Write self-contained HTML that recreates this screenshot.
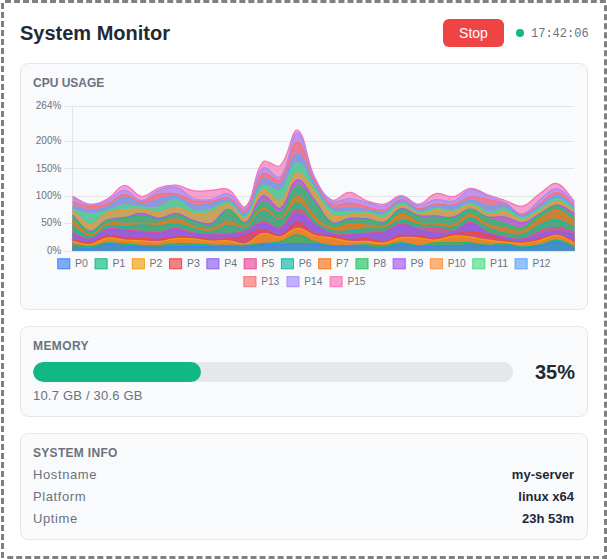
<!DOCTYPE html>
<html><head><meta charset="utf-8">
<style>
*{box-sizing:border-box;margin:0;padding:0}
html,body{width:607px;height:559px;background:#fff;overflow:hidden;font-family:"Liberation Sans",sans-serif}
.wrap{position:absolute;left:0;top:0}
.abs{position:absolute;white-space:nowrap}
.title{left:20px;top:19px;height:28px;line-height:28px;font-size:20px;font-weight:bold;color:#1f2937}
.btn{left:443px;top:19px;width:61px;height:28px;border-radius:6px;background:#ef4444;color:#fff;font-size:14px;line-height:28px;text-align:center}
.dot{left:516px;top:29px;width:8px;height:8px;border-radius:50%;background:#10b981}
.time{left:531px;top:26px;font-family:"Liberation Mono",monospace;font-size:12px;line-height:16px;color:#6b7280}
.card{position:absolute;left:20px;width:568px;background:#f9fafb;border:1px solid #e5e7eb;border-radius:8px}
.lbl{font-size:12px;font-weight:bold;color:#6b7280;line-height:14px}
.track{left:33px;top:362px;width:480px;height:20px;border-radius:10px;background:#e5e7eb;overflow:hidden}
.fill{position:absolute;left:0;top:0;width:168px;height:20px;border-radius:10px;background:#10b981}
.pct{right:32px;top:362px;width:50px;text-align:right;font-size:20px;font-weight:bold;color:#1f2937;line-height:20px}
.chart{position:absolute;left:0;top:0}
.tk{font-size:10.5px;fill:#6b7280;font-family:"Liberation Sans",sans-serif}
.lg{font-size:11px;fill:#6b7280;font-family:"Liberation Sans",sans-serif}
.sub{font-size:13px;color:#6b7280;line-height:16px}
.k{font-size:13px;color:#6b7280;line-height:16px;letter-spacing:0.6px}
.v{font-size:13px;font-weight:bold;color:#1f2937;line-height:16px;text-align:right}
</style></head><body>
<svg class="wrap" width="607" height="559"><g fill="#808080"><rect x="5.00" y="0" width="6.00" height="3"/><rect x="14.01" y="0" width="6.00" height="3"/><rect x="23.03" y="0" width="6.00" height="3"/><rect x="32.04" y="0" width="6.00" height="3"/><rect x="41.05" y="0" width="6.00" height="3"/><rect x="50.06" y="0" width="6.00" height="3"/><rect x="59.08" y="0" width="6.00" height="3"/><rect x="68.09" y="0" width="6.00" height="3"/><rect x="77.10" y="0" width="6.00" height="3"/><rect x="86.12" y="0" width="6.00" height="3"/><rect x="95.13" y="0" width="6.00" height="3"/><rect x="104.14" y="0" width="6.00" height="3"/><rect x="113.16" y="0" width="6.00" height="3"/><rect x="122.17" y="0" width="6.00" height="3"/><rect x="131.18" y="0" width="6.00" height="3"/><rect x="140.19" y="0" width="6.00" height="3"/><rect x="149.21" y="0" width="6.00" height="3"/><rect x="158.22" y="0" width="6.00" height="3"/><rect x="167.23" y="0" width="6.00" height="3"/><rect x="176.25" y="0" width="6.00" height="3"/><rect x="185.26" y="0" width="6.00" height="3"/><rect x="194.27" y="0" width="6.00" height="3"/><rect x="203.29" y="0" width="6.00" height="3"/><rect x="212.30" y="0" width="6.00" height="3"/><rect x="221.31" y="0" width="6.00" height="3"/><rect x="230.32" y="0" width="6.00" height="3"/><rect x="239.34" y="0" width="6.00" height="3"/><rect x="248.35" y="0" width="6.00" height="3"/><rect x="257.36" y="0" width="6.00" height="3"/><rect x="266.38" y="0" width="6.00" height="3"/><rect x="275.39" y="0" width="6.00" height="3"/><rect x="284.40" y="0" width="6.00" height="3"/><rect x="293.42" y="0" width="6.00" height="3"/><rect x="302.43" y="0" width="6.00" height="3"/><rect x="311.44" y="0" width="6.00" height="3"/><rect x="320.45" y="0" width="6.00" height="3"/><rect x="329.47" y="0" width="6.00" height="3"/><rect x="338.48" y="0" width="6.00" height="3"/><rect x="347.49" y="0" width="6.00" height="3"/><rect x="356.51" y="0" width="6.00" height="3"/><rect x="365.52" y="0" width="6.00" height="3"/><rect x="374.53" y="0" width="6.00" height="3"/><rect x="383.55" y="0" width="6.00" height="3"/><rect x="392.56" y="0" width="6.00" height="3"/><rect x="401.57" y="0" width="6.00" height="3"/><rect x="410.58" y="0" width="6.00" height="3"/><rect x="419.60" y="0" width="6.00" height="3"/><rect x="428.61" y="0" width="6.00" height="3"/><rect x="437.62" y="0" width="6.00" height="3"/><rect x="446.64" y="0" width="6.00" height="3"/><rect x="455.65" y="0" width="6.00" height="3"/><rect x="464.66" y="0" width="6.00" height="3"/><rect x="473.68" y="0" width="6.00" height="3"/><rect x="482.69" y="0" width="6.00" height="3"/><rect x="491.70" y="0" width="6.00" height="3"/><rect x="500.71" y="0" width="6.00" height="3"/><rect x="509.73" y="0" width="6.00" height="3"/><rect x="518.74" y="0" width="6.00" height="3"/><rect x="527.75" y="0" width="6.00" height="3"/><rect x="536.77" y="0" width="6.00" height="3"/><rect x="545.78" y="0" width="6.00" height="3"/><rect x="554.79" y="0" width="6.00" height="3"/><rect x="563.81" y="0" width="6.00" height="3"/><rect x="572.82" y="0" width="6.00" height="3"/><rect x="581.83" y="0" width="6.00" height="3"/><rect x="590.85" y="0" width="6.00" height="3"/><rect x="599.86" y="0" width="6.00" height="3"/><rect x="7.20" y="556" width="6.00" height="3"/><rect x="16.21" y="556" width="6.00" height="3"/><rect x="25.23" y="556" width="6.00" height="3"/><rect x="34.24" y="556" width="6.00" height="3"/><rect x="43.25" y="556" width="6.00" height="3"/><rect x="52.27" y="556" width="6.00" height="3"/><rect x="61.28" y="556" width="6.00" height="3"/><rect x="70.29" y="556" width="6.00" height="3"/><rect x="79.30" y="556" width="6.00" height="3"/><rect x="88.32" y="556" width="6.00" height="3"/><rect x="97.33" y="556" width="6.00" height="3"/><rect x="106.34" y="556" width="6.00" height="3"/><rect x="115.36" y="556" width="6.00" height="3"/><rect x="124.37" y="556" width="6.00" height="3"/><rect x="133.38" y="556" width="6.00" height="3"/><rect x="142.39" y="556" width="6.00" height="3"/><rect x="151.41" y="556" width="6.00" height="3"/><rect x="160.42" y="556" width="6.00" height="3"/><rect x="169.43" y="556" width="6.00" height="3"/><rect x="178.45" y="556" width="6.00" height="3"/><rect x="187.46" y="556" width="6.00" height="3"/><rect x="196.47" y="556" width="6.00" height="3"/><rect x="205.49" y="556" width="6.00" height="3"/><rect x="214.50" y="556" width="6.00" height="3"/><rect x="223.51" y="556" width="6.00" height="3"/><rect x="232.52" y="556" width="6.00" height="3"/><rect x="241.54" y="556" width="6.00" height="3"/><rect x="250.55" y="556" width="6.00" height="3"/><rect x="259.56" y="556" width="6.00" height="3"/><rect x="268.58" y="556" width="6.00" height="3"/><rect x="277.59" y="556" width="6.00" height="3"/><rect x="286.60" y="556" width="6.00" height="3"/><rect x="295.62" y="556" width="6.00" height="3"/><rect x="304.63" y="556" width="6.00" height="3"/><rect x="313.64" y="556" width="6.00" height="3"/><rect x="322.65" y="556" width="6.00" height="3"/><rect x="331.67" y="556" width="6.00" height="3"/><rect x="340.68" y="556" width="6.00" height="3"/><rect x="349.69" y="556" width="6.00" height="3"/><rect x="358.71" y="556" width="6.00" height="3"/><rect x="367.72" y="556" width="6.00" height="3"/><rect x="376.73" y="556" width="6.00" height="3"/><rect x="385.75" y="556" width="6.00" height="3"/><rect x="394.76" y="556" width="6.00" height="3"/><rect x="403.77" y="556" width="6.00" height="3"/><rect x="412.78" y="556" width="6.00" height="3"/><rect x="421.80" y="556" width="6.00" height="3"/><rect x="430.81" y="556" width="6.00" height="3"/><rect x="439.82" y="556" width="6.00" height="3"/><rect x="448.84" y="556" width="6.00" height="3"/><rect x="457.85" y="556" width="6.00" height="3"/><rect x="466.86" y="556" width="6.00" height="3"/><rect x="475.88" y="556" width="6.00" height="3"/><rect x="484.89" y="556" width="6.00" height="3"/><rect x="493.90" y="556" width="6.00" height="3"/><rect x="502.91" y="556" width="6.00" height="3"/><rect x="511.93" y="556" width="6.00" height="3"/><rect x="520.94" y="556" width="6.00" height="3"/><rect x="529.95" y="556" width="6.00" height="3"/><rect x="538.97" y="556" width="6.00" height="3"/><rect x="547.98" y="556" width="6.00" height="3"/><rect x="556.99" y="556" width="6.00" height="3"/><rect x="566.01" y="556" width="6.00" height="3"/><rect x="575.02" y="556" width="6.00" height="3"/><rect x="584.03" y="556" width="6.00" height="3"/><rect x="593.05" y="556" width="6.00" height="3"/><rect x="602.06" y="556" width="4.94" height="3"/><rect x="1" y="3.00" width="3" height="6.00"/><rect x="1" y="12.00" width="3" height="6.00"/><rect x="1" y="21.00" width="3" height="6.00"/><rect x="1" y="30.00" width="3" height="6.00"/><rect x="1" y="39.00" width="3" height="6.00"/><rect x="1" y="48.00" width="3" height="6.00"/><rect x="1" y="57.00" width="3" height="6.00"/><rect x="1" y="66.00" width="3" height="6.00"/><rect x="1" y="75.00" width="3" height="6.00"/><rect x="1" y="84.00" width="3" height="6.00"/><rect x="1" y="93.00" width="3" height="6.00"/><rect x="1" y="102.00" width="3" height="6.00"/><rect x="1" y="111.00" width="3" height="6.00"/><rect x="1" y="120.00" width="3" height="6.00"/><rect x="1" y="129.00" width="3" height="6.00"/><rect x="1" y="138.00" width="3" height="6.00"/><rect x="1" y="147.00" width="3" height="6.00"/><rect x="1" y="156.00" width="3" height="6.00"/><rect x="1" y="165.00" width="3" height="6.00"/><rect x="1" y="174.00" width="3" height="6.00"/><rect x="1" y="183.00" width="3" height="6.00"/><rect x="1" y="192.00" width="3" height="6.00"/><rect x="1" y="201.00" width="3" height="6.00"/><rect x="1" y="210.00" width="3" height="6.00"/><rect x="1" y="219.00" width="3" height="6.00"/><rect x="1" y="228.00" width="3" height="6.00"/><rect x="1" y="237.00" width="3" height="6.00"/><rect x="1" y="246.00" width="3" height="6.00"/><rect x="1" y="255.00" width="3" height="6.00"/><rect x="1" y="264.00" width="3" height="6.00"/><rect x="1" y="273.00" width="3" height="6.00"/><rect x="1" y="282.00" width="3" height="6.00"/><rect x="1" y="291.00" width="3" height="6.00"/><rect x="1" y="300.00" width="3" height="6.00"/><rect x="1" y="309.00" width="3" height="6.00"/><rect x="1" y="318.00" width="3" height="6.00"/><rect x="1" y="327.00" width="3" height="6.00"/><rect x="1" y="336.00" width="3" height="6.00"/><rect x="1" y="345.00" width="3" height="6.00"/><rect x="1" y="354.00" width="3" height="6.00"/><rect x="1" y="363.00" width="3" height="6.00"/><rect x="1" y="372.00" width="3" height="6.00"/><rect x="1" y="381.00" width="3" height="6.00"/><rect x="1" y="390.00" width="3" height="6.00"/><rect x="1" y="399.00" width="3" height="6.00"/><rect x="1" y="408.00" width="3" height="6.00"/><rect x="1" y="417.00" width="3" height="6.00"/><rect x="1" y="426.00" width="3" height="6.00"/><rect x="1" y="435.00" width="3" height="6.00"/><rect x="1" y="444.00" width="3" height="6.00"/><rect x="1" y="453.00" width="3" height="6.00"/><rect x="1" y="462.00" width="3" height="6.00"/><rect x="1" y="471.00" width="3" height="6.00"/><rect x="1" y="480.00" width="3" height="6.00"/><rect x="1" y="489.00" width="3" height="6.00"/><rect x="1" y="498.00" width="3" height="6.00"/><rect x="1" y="507.00" width="3" height="6.00"/><rect x="1" y="516.00" width="3" height="6.00"/><rect x="1" y="525.00" width="3" height="6.00"/><rect x="1" y="534.00" width="3" height="6.00"/><rect x="1" y="543.00" width="3" height="6.00"/><rect x="1" y="552.00" width="3" height="6.00"/><rect x="604" y="5.20" width="3" height="6.00"/><rect x="604" y="14.21" width="3" height="6.00"/><rect x="604" y="23.23" width="3" height="6.00"/><rect x="604" y="32.24" width="3" height="6.00"/><rect x="604" y="41.25" width="3" height="6.00"/><rect x="604" y="50.27" width="3" height="6.00"/><rect x="604" y="59.28" width="3" height="6.00"/><rect x="604" y="68.29" width="3" height="6.00"/><rect x="604" y="77.30" width="3" height="6.00"/><rect x="604" y="86.32" width="3" height="6.00"/><rect x="604" y="95.33" width="3" height="6.00"/><rect x="604" y="104.34" width="3" height="6.00"/><rect x="604" y="113.36" width="3" height="6.00"/><rect x="604" y="122.37" width="3" height="6.00"/><rect x="604" y="131.38" width="3" height="6.00"/><rect x="604" y="140.39" width="3" height="6.00"/><rect x="604" y="149.41" width="3" height="6.00"/><rect x="604" y="158.42" width="3" height="6.00"/><rect x="604" y="167.43" width="3" height="6.00"/><rect x="604" y="176.45" width="3" height="6.00"/><rect x="604" y="185.46" width="3" height="6.00"/><rect x="604" y="194.47" width="3" height="6.00"/><rect x="604" y="203.49" width="3" height="6.00"/><rect x="604" y="212.50" width="3" height="6.00"/><rect x="604" y="221.51" width="3" height="6.00"/><rect x="604" y="230.52" width="3" height="6.00"/><rect x="604" y="239.54" width="3" height="6.00"/><rect x="604" y="248.55" width="3" height="6.00"/><rect x="604" y="257.56" width="3" height="6.00"/><rect x="604" y="266.58" width="3" height="6.00"/><rect x="604" y="275.59" width="3" height="6.00"/><rect x="604" y="284.60" width="3" height="6.00"/><rect x="604" y="293.62" width="3" height="6.00"/><rect x="604" y="302.63" width="3" height="6.00"/><rect x="604" y="311.64" width="3" height="6.00"/><rect x="604" y="320.65" width="3" height="6.00"/><rect x="604" y="329.67" width="3" height="6.00"/><rect x="604" y="338.68" width="3" height="6.00"/><rect x="604" y="347.69" width="3" height="6.00"/><rect x="604" y="356.71" width="3" height="6.00"/><rect x="604" y="365.72" width="3" height="6.00"/><rect x="604" y="374.73" width="3" height="6.00"/><rect x="604" y="383.75" width="3" height="6.00"/><rect x="604" y="392.76" width="3" height="6.00"/><rect x="604" y="401.77" width="3" height="6.00"/><rect x="604" y="410.78" width="3" height="6.00"/><rect x="604" y="419.80" width="3" height="6.00"/><rect x="604" y="428.81" width="3" height="6.00"/><rect x="604" y="437.82" width="3" height="6.00"/><rect x="604" y="446.84" width="3" height="6.00"/><rect x="604" y="455.85" width="3" height="6.00"/><rect x="604" y="464.86" width="3" height="6.00"/><rect x="604" y="473.88" width="3" height="6.00"/><rect x="604" y="482.89" width="3" height="6.00"/><rect x="604" y="491.90" width="3" height="6.00"/><rect x="604" y="500.91" width="3" height="6.00"/><rect x="604" y="509.93" width="3" height="6.00"/><rect x="604" y="518.94" width="3" height="6.00"/><rect x="604" y="527.95" width="3" height="6.00"/><rect x="604" y="536.97" width="3" height="6.00"/><rect x="604" y="545.98" width="3" height="6.00"/><rect x="604" y="554.99" width="3" height="4.01"/></g></svg>
<div class="abs title">System Monitor</div>
<div class="abs btn">Stop</div>
<div class="abs dot"></div>
<div class="abs time">17:42:06</div>

<div class="card" style="top:63px;height:247px"></div>
<div class="abs lbl" style="left:33px;top:76px">CPU USAGE</div>
<svg class="chart" width="607" height="559" viewBox="0 0 607 559">
<line x1="64.5" x2="574.5" y1="251.5" y2="251.5" stroke="#e3e4e6" stroke-width="1"/>
<text x="47.1" y="253.6" textLength="14.2" lengthAdjust="spacingAndGlyphs" class="tk">0%</text>
<line x1="64.5" x2="574.5" y1="223.5" y2="223.5" stroke="#e3e4e6" stroke-width="1"/>
<text x="41.3" y="226.2" textLength="20.0" lengthAdjust="spacingAndGlyphs" class="tk">50%</text>
<line x1="64.5" x2="574.5" y1="196.5" y2="196.5" stroke="#e3e4e6" stroke-width="1"/>
<text x="35.8" y="198.9" textLength="25.5" lengthAdjust="spacingAndGlyphs" class="tk">100%</text>
<line x1="64.5" x2="574.5" y1="168.5" y2="168.5" stroke="#e3e4e6" stroke-width="1"/>
<text x="35.8" y="171.5" textLength="25.5" lengthAdjust="spacingAndGlyphs" class="tk">150%</text>
<line x1="64.5" x2="574.5" y1="141.5" y2="141.5" stroke="#e3e4e6" stroke-width="1"/>
<text x="35.8" y="144.1" textLength="25.5" lengthAdjust="spacingAndGlyphs" class="tk">200%</text>
<line x1="64.5" x2="574.5" y1="106.5" y2="106.5" stroke="#e3e4e6" stroke-width="1"/>
<text x="35.8" y="109.1" textLength="25.5" lengthAdjust="spacingAndGlyphs" class="tk">264%</text>
<line x1="72.5" x2="72.5" y1="106" y2="252" stroke="#e3e4e6" stroke-width="1"/>
<path d="M72.60,196.30C79.52,199.46 82.80,203.63 89.90,204.20C96.64,204.75 100.97,202.47 107.20,199.10C114.81,194.99 117.34,186.04 124.50,185.50C131.18,185.00 134.69,196.05 141.80,196.50C148.53,196.93 151.82,190.10 159.10,187.70C165.66,185.54 169.62,184.49 176.40,185.10C183.46,185.73 186.60,189.71 193.70,190.80C200.44,191.83 204.08,190.64 211.00,190.40C217.92,190.16 222.52,186.91 228.30,189.60C236.36,193.35 240.96,210.23 245.60,206.50C254.80,199.11 252.79,173.75 262.90,161.80C266.63,157.39 275.91,169.52 280.20,165.60C289.75,156.88 291.43,128.11 297.50,130.20C305.27,132.87 305.95,159.64 314.80,177.50C319.79,187.56 323.79,196.42 332.10,200.00C337.63,202.38 342.54,192.24 349.40,192.40C356.38,192.56 359.48,198.34 366.70,200.80C373.32,203.06 377.40,205.21 384.00,204.20C391.24,203.09 394.38,195.50 401.30,195.50C408.22,195.50 411.84,204.57 418.60,204.20C425.68,203.81 428.48,195.23 435.90,193.60C442.32,192.19 446.59,197.61 453.20,196.60C460.43,195.49 463.45,188.67 470.50,188.30C477.29,187.95 480.83,192.34 487.80,194.80C494.67,197.22 498.17,198.24 505.10,200.50C512.01,202.76 516.02,207.35 522.40,206.10C529.86,204.63 532.57,198.34 539.70,193.70C546.41,189.34 550.80,182.26 557.00,183.60C564.64,185.26 567.38,194.16 574.30,201.20L574.30,251.1L72.60,251.1Z" fill="#f472b6" fill-opacity="0.66"/>
<path d="M72.60,196.30C79.52,199.46 82.80,203.63 89.90,204.20C96.64,204.75 100.97,202.47 107.20,199.10C114.81,194.99 117.34,186.04 124.50,185.50C131.18,185.00 134.69,196.05 141.80,196.50C148.53,196.93 151.82,190.10 159.10,187.70C165.66,185.54 169.62,184.49 176.40,185.10C183.46,185.73 186.60,189.71 193.70,190.80C200.44,191.83 204.08,190.64 211.00,190.40C217.92,190.16 222.52,186.91 228.30,189.60C236.36,193.35 240.96,210.23 245.60,206.50C254.80,199.11 252.79,173.75 262.90,161.80C266.63,157.39 275.91,169.52 280.20,165.60C289.75,156.88 291.43,128.11 297.50,130.20C305.27,132.87 305.95,159.64 314.80,177.50C319.79,187.56 323.79,196.42 332.10,200.00C337.63,202.38 342.54,192.24 349.40,192.40C356.38,192.56 359.48,198.34 366.70,200.80C373.32,203.06 377.40,205.21 384.00,204.20C391.24,203.09 394.38,195.50 401.30,195.50C408.22,195.50 411.84,204.57 418.60,204.20C425.68,203.81 428.48,195.23 435.90,193.60C442.32,192.19 446.59,197.61 453.20,196.60C460.43,195.49 463.45,188.67 470.50,188.30C477.29,187.95 480.83,192.34 487.80,194.80C494.67,197.22 498.17,198.24 505.10,200.50C512.01,202.76 516.02,207.35 522.40,206.10C529.86,204.63 532.57,198.34 539.70,193.70C546.41,189.34 550.80,182.26 557.00,183.60C564.64,185.26 567.38,194.16 574.30,201.20" fill="none" stroke="#f472b6" stroke-width="1.2"/>
<path d="M72.60,197.30C79.52,200.46 82.75,204.44 89.90,205.20C96.59,205.92 100.73,203.77 107.20,201.00C114.57,197.85 117.54,190.48 124.50,190.40C131.38,190.32 134.92,200.68 141.80,200.60C148.76,200.52 151.67,192.84 159.10,190.00C165.51,187.56 170.05,185.80 176.40,187.40C183.89,189.28 186.17,196.07 193.70,198.70C200.01,200.91 204.25,200.46 211.00,199.50C218.09,198.50 222.14,192.20 228.30,193.80C235.98,195.80 240.88,211.99 245.60,208.50C254.72,201.75 253.31,176.93 262.90,168.20C267.15,164.33 276.16,181.09 280.20,177.00C290.00,167.09 290.75,132.71 297.50,133.20C304.59,133.71 305.94,162.08 314.80,179.50C319.78,189.28 323.61,196.54 332.10,201.20C337.45,204.14 342.52,198.28 349.40,198.50C356.36,198.72 359.78,200.78 366.70,202.30C373.62,203.82 377.45,207.18 384.00,206.10C391.29,204.90 394.35,196.68 401.30,196.60C408.19,196.52 411.46,205.08 418.60,205.70C425.30,206.28 428.79,200.52 435.90,199.60C442.63,198.72 446.89,202.99 453.20,201.20C460.73,199.07 463.18,190.84 470.50,189.80C477.02,188.88 480.87,193.72 487.80,196.30C494.71,198.88 498.57,199.36 505.10,202.70C512.41,206.44 515.75,214.54 522.40,214.00C529.59,213.42 532.49,205.13 539.70,199.90C546.33,195.09 550.32,188.40 557.00,188.90C564.16,189.44 567.38,197.06 574.30,202.50L574.30,251.1L72.60,251.1Z" fill="#a78bfa" fill-opacity="0.66"/>
<path d="M72.60,197.30C79.52,200.46 82.75,204.44 89.90,205.20C96.59,205.92 100.73,203.77 107.20,201.00C114.57,197.85 117.54,190.48 124.50,190.40C131.38,190.32 134.92,200.68 141.80,200.60C148.76,200.52 151.67,192.84 159.10,190.00C165.51,187.56 170.05,185.80 176.40,187.40C183.89,189.28 186.17,196.07 193.70,198.70C200.01,200.91 204.25,200.46 211.00,199.50C218.09,198.50 222.14,192.20 228.30,193.80C235.98,195.80 240.88,211.99 245.60,208.50C254.72,201.75 253.31,176.93 262.90,168.20C267.15,164.33 276.16,181.09 280.20,177.00C290.00,167.09 290.75,132.71 297.50,133.20C304.59,133.71 305.94,162.08 314.80,179.50C319.78,189.28 323.61,196.54 332.10,201.20C337.45,204.14 342.52,198.28 349.40,198.50C356.36,198.72 359.78,200.78 366.70,202.30C373.62,203.82 377.45,207.18 384.00,206.10C391.29,204.90 394.35,196.68 401.30,196.60C408.19,196.52 411.46,205.08 418.60,205.70C425.30,206.28 428.79,200.52 435.90,199.60C442.63,198.72 446.89,202.99 453.20,201.20C460.73,199.07 463.18,190.84 470.50,189.80C477.02,188.88 480.87,193.72 487.80,196.30C494.71,198.88 498.57,199.36 505.10,202.70C512.41,206.44 515.75,214.54 522.40,214.00C529.59,213.42 532.49,205.13 539.70,199.90C546.33,195.09 550.32,188.40 557.00,188.90C564.16,189.44 567.38,197.06 574.30,202.50" fill="none" stroke="#a78bfa" stroke-width="1.2"/>
<path d="M72.60,201.90C79.52,203.78 82.90,206.17 89.90,206.60C96.74,207.01 100.69,206.26 107.20,204.00C114.53,201.46 117.43,194.99 124.50,194.60C131.27,194.23 134.91,202.18 141.80,202.10C148.75,202.02 151.85,195.85 159.10,194.20C165.69,192.69 169.73,192.89 176.40,194.20C183.57,195.61 186.53,199.51 193.70,201.00C200.37,202.39 204.14,201.99 211.00,201.40C217.98,200.79 222.09,196.28 228.30,198.00C235.93,200.12 240.82,214.34 245.60,211.00C254.66,204.66 253.34,182.36 262.90,173.80C267.18,169.96 275.95,183.87 280.20,180.00C289.79,171.27 290.69,142.00 297.50,142.30C304.53,142.60 306.53,166.61 314.80,181.50C320.37,191.53 323.46,199.23 332.10,204.60C337.30,207.83 342.55,202.56 349.40,203.00C356.39,203.44 359.76,205.36 366.70,206.80C373.60,208.24 377.57,211.54 384.00,210.20C391.41,208.66 394.25,199.91 401.30,199.60C408.09,199.31 411.37,207.74 418.60,208.70C425.21,209.58 428.87,204.97 435.90,204.20C442.71,203.45 446.60,206.27 453.20,204.90C460.44,203.39 463.29,198.08 470.50,197.00C477.13,196.00 480.95,198.27 487.80,199.70C494.79,201.15 498.64,201.34 505.10,204.20C512.48,207.46 515.53,215.10 522.40,215.00C529.37,214.90 532.75,208.18 539.70,203.70C546.59,199.26 550.20,192.44 557.00,192.70C564.04,192.96 567.38,200.08 574.30,205.00L574.30,251.1L72.60,251.1Z" fill="#f87171" fill-opacity="0.66"/>
<path d="M72.60,201.90C79.52,203.78 82.90,206.17 89.90,206.60C96.74,207.01 100.69,206.26 107.20,204.00C114.53,201.46 117.43,194.99 124.50,194.60C131.27,194.23 134.91,202.18 141.80,202.10C148.75,202.02 151.85,195.85 159.10,194.20C165.69,192.69 169.73,192.89 176.40,194.20C183.57,195.61 186.53,199.51 193.70,201.00C200.37,202.39 204.14,201.99 211.00,201.40C217.98,200.79 222.09,196.28 228.30,198.00C235.93,200.12 240.82,214.34 245.60,211.00C254.66,204.66 253.34,182.36 262.90,173.80C267.18,169.96 275.95,183.87 280.20,180.00C289.79,171.27 290.69,142.00 297.50,142.30C304.53,142.60 306.53,166.61 314.80,181.50C320.37,191.53 323.46,199.23 332.10,204.60C337.30,207.83 342.55,202.56 349.40,203.00C356.39,203.44 359.76,205.36 366.70,206.80C373.60,208.24 377.57,211.54 384.00,210.20C391.41,208.66 394.25,199.91 401.30,199.60C408.09,199.31 411.37,207.74 418.60,208.70C425.21,209.58 428.87,204.97 435.90,204.20C442.71,203.45 446.60,206.27 453.20,204.90C460.44,203.39 463.29,198.08 470.50,197.00C477.13,196.00 480.95,198.27 487.80,199.70C494.79,201.15 498.64,201.34 505.10,204.20C512.48,207.46 515.53,215.10 522.40,215.00C529.37,214.90 532.75,208.18 539.70,203.70C546.59,199.26 550.20,192.44 557.00,192.70C564.04,192.96 567.38,200.08 574.30,205.00" fill="none" stroke="#f87171" stroke-width="1.2"/>
<path d="M72.60,205.80C79.52,207.52 82.92,209.78 89.90,210.10C96.76,210.42 100.75,209.80 107.20,207.40C114.59,204.64 117.31,197.91 124.50,197.20C131.15,196.55 134.74,203.53 141.80,204.00C148.58,204.45 152.12,201.01 159.10,199.50C165.96,198.01 169.82,195.42 176.40,196.50C183.66,197.70 186.40,203.68 193.70,205.20C200.24,206.56 204.15,204.75 211.00,203.70C217.99,202.63 222.18,198.08 228.30,199.90C236.02,202.20 240.53,216.99 245.60,214.00C254.37,208.83 253.46,187.55 262.90,179.50C267.30,175.75 275.50,187.96 280.20,184.50C289.34,177.76 290.58,154.00 297.50,154.00C304.42,154.00 307.25,172.71 314.80,184.50C321.09,194.31 323.41,202.10 332.10,208.00C337.25,211.50 342.49,207.70 349.40,208.00C356.33,208.30 359.82,208.60 366.70,209.50C373.66,210.40 377.68,214.09 384.00,212.50C391.52,210.61 394.18,201.27 401.30,200.80C408.02,200.35 411.37,209.26 418.60,210.20C425.21,211.06 428.86,205.99 435.90,205.30C442.70,204.63 446.51,207.81 453.20,206.80C460.35,205.73 463.52,200.30 470.50,200.10C477.36,199.90 480.70,204.71 487.80,205.80C494.54,206.83 498.73,203.52 505.10,205.40C512.57,207.60 515.42,215.86 522.40,216.00C529.26,216.14 532.79,210.08 539.70,206.10C546.63,202.12 550.16,195.92 557.00,196.10C564.00,196.28 567.38,202.64 574.30,207.00L574.30,251.1L72.60,251.1Z" fill="#60a5fa" fill-opacity="0.66"/>
<path d="M72.60,205.80C79.52,207.52 82.92,209.78 89.90,210.10C96.76,210.42 100.75,209.80 107.20,207.40C114.59,204.64 117.31,197.91 124.50,197.20C131.15,196.55 134.74,203.53 141.80,204.00C148.58,204.45 152.12,201.01 159.10,199.50C165.96,198.01 169.82,195.42 176.40,196.50C183.66,197.70 186.40,203.68 193.70,205.20C200.24,206.56 204.15,204.75 211.00,203.70C217.99,202.63 222.18,198.08 228.30,199.90C236.02,202.20 240.53,216.99 245.60,214.00C254.37,208.83 253.46,187.55 262.90,179.50C267.30,175.75 275.50,187.96 280.20,184.50C289.34,177.76 290.58,154.00 297.50,154.00C304.42,154.00 307.25,172.71 314.80,184.50C321.09,194.31 323.41,202.10 332.10,208.00C337.25,211.50 342.49,207.70 349.40,208.00C356.33,208.30 359.82,208.60 366.70,209.50C373.66,210.40 377.68,214.09 384.00,212.50C391.52,210.61 394.18,201.27 401.30,200.80C408.02,200.35 411.37,209.26 418.60,210.20C425.21,211.06 428.86,205.99 435.90,205.30C442.70,204.63 446.51,207.81 453.20,206.80C460.35,205.73 463.52,200.30 470.50,200.10C477.36,199.90 480.70,204.71 487.80,205.80C494.54,206.83 498.73,203.52 505.10,205.40C512.57,207.60 515.42,215.86 522.40,216.00C529.26,216.14 532.79,210.08 539.70,206.10C546.63,202.12 550.16,195.92 557.00,196.10C564.00,196.28 567.38,202.64 574.30,207.00" fill="none" stroke="#60a5fa" stroke-width="1.2"/>
<path d="M72.60,209.00C79.52,211.04 82.91,213.80 89.90,214.10C96.75,214.40 100.36,212.26 107.20,210.50C114.20,208.70 117.45,205.89 124.50,205.20C131.29,204.53 134.86,206.72 141.80,207.10C148.70,207.48 152.49,208.55 159.10,207.10C166.33,205.51 169.79,198.79 176.40,199.50C183.63,200.27 186.18,208.67 193.70,210.80C200.02,212.59 204.32,210.90 211.00,209.30C218.16,207.58 222.05,201.11 228.30,202.50C235.89,204.19 240.22,219.57 245.60,217.00C254.06,212.97 253.70,193.05 262.90,186.00C267.54,182.45 275.28,193.76 280.20,190.50C289.12,184.60 290.44,163.41 297.50,163.10C304.28,162.81 307.51,178.91 314.80,189.00C321.35,198.07 323.55,205.37 332.10,211.00C337.39,214.49 342.48,211.58 349.40,211.80C356.32,212.02 359.82,211.50 366.70,212.10C373.66,212.70 377.62,216.33 384.00,214.80C391.46,213.01 394.18,204.27 401.30,203.80C408.02,203.35 411.37,211.48 418.60,212.50C425.21,213.44 428.93,209.00 435.90,208.70C442.77,208.40 446.55,212.00 453.20,211.00C460.39,209.92 463.64,203.34 470.50,203.50C477.48,203.66 480.56,210.61 487.80,211.80C494.40,212.89 498.52,208.06 505.10,209.20C512.36,210.46 515.50,217.84 522.40,217.80C529.34,217.76 532.89,212.72 539.70,209.00C546.73,205.16 550.11,198.84 557.00,198.90C563.95,198.96 567.38,205.14 574.30,209.30L574.30,251.1L72.60,251.1Z" fill="#4ade80" fill-opacity="0.66"/>
<path d="M72.60,209.00C79.52,211.04 82.91,213.80 89.90,214.10C96.75,214.40 100.36,212.26 107.20,210.50C114.20,208.70 117.45,205.89 124.50,205.20C131.29,204.53 134.86,206.72 141.80,207.10C148.70,207.48 152.49,208.55 159.10,207.10C166.33,205.51 169.79,198.79 176.40,199.50C183.63,200.27 186.18,208.67 193.70,210.80C200.02,212.59 204.32,210.90 211.00,209.30C218.16,207.58 222.05,201.11 228.30,202.50C235.89,204.19 240.22,219.57 245.60,217.00C254.06,212.97 253.70,193.05 262.90,186.00C267.54,182.45 275.28,193.76 280.20,190.50C289.12,184.60 290.44,163.41 297.50,163.10C304.28,162.81 307.51,178.91 314.80,189.00C321.35,198.07 323.55,205.37 332.10,211.00C337.39,214.49 342.48,211.58 349.40,211.80C356.32,212.02 359.82,211.50 366.70,212.10C373.66,212.70 377.62,216.33 384.00,214.80C391.46,213.01 394.18,204.27 401.30,203.80C408.02,203.35 411.37,211.48 418.60,212.50C425.21,213.44 428.93,209.00 435.90,208.70C442.77,208.40 446.55,212.00 453.20,211.00C460.39,209.92 463.64,203.34 470.50,203.50C477.48,203.66 480.56,210.61 487.80,211.80C494.40,212.89 498.52,208.06 505.10,209.20C512.36,210.46 515.50,217.84 522.40,217.80C529.34,217.76 532.89,212.72 539.70,209.00C546.73,205.16 550.11,198.84 557.00,198.90C563.95,198.96 567.38,205.14 574.30,209.30" fill="none" stroke="#4ade80" stroke-width="1.2"/>
<path d="M72.60,211.10C79.52,216.38 82.79,223.89 89.90,224.30C96.63,224.69 99.74,216.25 107.20,213.10C113.58,210.41 117.52,210.47 124.50,209.70C131.36,208.95 134.93,208.76 141.80,209.30C148.77,209.84 152.26,212.78 159.10,212.40C166.10,212.02 169.58,207.08 176.40,207.40C183.42,207.72 186.56,212.97 193.70,214.00C200.40,214.97 204.37,214.16 211.00,212.40C218.21,210.48 221.96,203.59 228.30,204.80C235.80,206.23 240.08,221.36 245.60,219.00C253.92,215.44 254.34,194.30 262.90,190.00C268.18,187.34 274.87,204.19 280.20,201.60C288.71,197.47 289.72,175.25 297.50,173.20C303.56,171.61 308.21,184.50 314.80,192.50C322.05,201.30 323.48,209.55 332.10,215.20C337.32,218.63 342.50,215.58 349.40,215.20C356.34,214.82 359.87,212.79 366.70,213.30C373.71,213.83 377.65,219.19 384.00,217.80C391.49,216.15 394.05,206.50 401.30,205.70C407.89,204.98 411.39,212.98 418.60,214.00C425.23,214.94 428.94,210.90 435.90,210.60C442.78,210.30 446.56,213.58 453.20,212.50C460.40,211.34 463.74,204.61 470.50,205.00C477.58,205.41 480.45,212.88 487.80,214.50C494.29,215.92 498.45,211.54 505.10,212.60C512.29,213.74 515.57,220.24 522.40,220.00C529.41,219.76 532.86,215.00 539.70,211.40C546.70,207.72 550.10,201.76 557.00,201.80C563.94,201.84 567.38,207.68 574.30,211.60L574.30,251.1L72.60,251.1Z" fill="#fb923c" fill-opacity="0.66"/>
<path d="M72.60,211.10C79.52,216.38 82.79,223.89 89.90,224.30C96.63,224.69 99.74,216.25 107.20,213.10C113.58,210.41 117.52,210.47 124.50,209.70C131.36,208.95 134.93,208.76 141.80,209.30C148.77,209.84 152.26,212.78 159.10,212.40C166.10,212.02 169.58,207.08 176.40,207.40C183.42,207.72 186.56,212.97 193.70,214.00C200.40,214.97 204.37,214.16 211.00,212.40C218.21,210.48 221.96,203.59 228.30,204.80C235.80,206.23 240.08,221.36 245.60,219.00C253.92,215.44 254.34,194.30 262.90,190.00C268.18,187.34 274.87,204.19 280.20,201.60C288.71,197.47 289.72,175.25 297.50,173.20C303.56,171.61 308.21,184.50 314.80,192.50C322.05,201.30 323.48,209.55 332.10,215.20C337.32,218.63 342.50,215.58 349.40,215.20C356.34,214.82 359.87,212.79 366.70,213.30C373.71,213.83 377.65,219.19 384.00,217.80C391.49,216.15 394.05,206.50 401.30,205.70C407.89,204.98 411.39,212.98 418.60,214.00C425.23,214.94 428.94,210.90 435.90,210.60C442.78,210.30 446.56,213.58 453.20,212.50C460.40,211.34 463.74,204.61 470.50,205.00C477.58,205.41 480.45,212.88 487.80,214.50C494.29,215.92 498.45,211.54 505.10,212.60C512.29,213.74 515.57,220.24 522.40,220.00C529.41,219.76 532.86,215.00 539.70,211.40C546.70,207.72 550.10,201.76 557.00,201.80C563.94,201.84 567.38,207.68 574.30,211.60" fill="none" stroke="#fb923c" stroke-width="1.2"/>
<path d="M72.60,215.10C79.52,221.46 82.53,230.00 89.90,231.00C96.37,231.88 99.70,222.68 107.20,219.80C113.54,217.36 117.66,218.98 124.50,217.70C131.50,216.38 134.92,213.16 141.80,213.30C148.76,213.44 152.17,218.36 159.10,218.40C166.01,218.44 169.62,213.05 176.40,213.50C183.46,213.97 186.55,218.65 193.70,220.70C200.39,222.61 204.92,225.40 211.00,223.40C218.76,220.84 221.30,209.46 228.30,209.30C235.14,209.14 239.98,224.79 245.60,222.60C253.82,219.39 254.63,199.17 262.90,195.80C268.47,193.53 274.78,210.98 280.20,208.50C288.62,204.66 289.83,181.77 297.50,180.00C303.67,178.57 308.06,192.16 314.80,200.50C321.90,209.28 323.63,218.44 332.10,222.80C337.47,225.56 342.37,219.13 349.40,218.30C356.21,217.49 359.84,217.95 366.70,218.70C373.68,219.47 377.82,223.88 384.00,222.10C391.66,219.88 393.82,210.13 401.30,208.70C407.66,207.49 411.43,214.01 418.60,215.50C425.27,216.89 428.99,215.58 435.90,215.90C442.83,216.22 446.60,218.38 453.20,217.10C460.44,215.70 463.57,209.22 470.50,209.20C477.41,209.18 480.56,215.37 487.80,217.00C494.40,218.49 498.36,215.87 505.10,217.00C512.20,218.19 515.71,223.42 522.40,222.80C529.55,222.14 532.76,217.35 539.70,213.80C546.60,210.27 550.06,205.16 557.00,205.10C563.90,205.04 567.38,210.14 574.30,213.50L574.30,251.1L72.60,251.1Z" fill="#a855f7" fill-opacity="0.66"/>
<path d="M72.60,215.10C79.52,221.46 82.53,230.00 89.90,231.00C96.37,231.88 99.70,222.68 107.20,219.80C113.54,217.36 117.66,218.98 124.50,217.70C131.50,216.38 134.92,213.16 141.80,213.30C148.76,213.44 152.17,218.36 159.10,218.40C166.01,218.44 169.62,213.05 176.40,213.50C183.46,213.97 186.55,218.65 193.70,220.70C200.39,222.61 204.92,225.40 211.00,223.40C218.76,220.84 221.30,209.46 228.30,209.30C235.14,209.14 239.98,224.79 245.60,222.60C253.82,219.39 254.63,199.17 262.90,195.80C268.47,193.53 274.78,210.98 280.20,208.50C288.62,204.66 289.83,181.77 297.50,180.00C303.67,178.57 308.06,192.16 314.80,200.50C321.90,209.28 323.63,218.44 332.10,222.80C337.47,225.56 342.37,219.13 349.40,218.30C356.21,217.49 359.84,217.95 366.70,218.70C373.68,219.47 377.82,223.88 384.00,222.10C391.66,219.88 393.82,210.13 401.30,208.70C407.66,207.49 411.43,214.01 418.60,215.50C425.27,216.89 428.99,215.58 435.90,215.90C442.83,216.22 446.60,218.38 453.20,217.10C460.44,215.70 463.57,209.22 470.50,209.20C477.41,209.18 480.56,215.37 487.80,217.00C494.40,218.49 498.36,215.87 505.10,217.00C512.20,218.19 515.71,223.42 522.40,222.80C529.55,222.14 532.76,217.35 539.70,213.80C546.60,210.27 550.06,205.16 557.00,205.10C563.90,205.04 567.38,210.14 574.30,213.50" fill="none" stroke="#a855f7" stroke-width="1.2"/>
<path d="M72.60,216.00C79.52,222.40 82.54,231.04 89.90,232.00C96.38,232.84 99.67,223.37 107.20,220.50C113.51,218.09 117.63,219.81 124.50,218.80C131.47,217.77 134.91,215.24 141.80,215.40C148.75,215.56 152.20,219.68 159.10,219.60C166.04,219.52 169.61,214.57 176.40,215.00C183.45,215.45 186.60,219.69 193.70,221.80C200.44,223.81 204.99,227.32 211.00,225.30C218.83,222.68 221.22,210.53 228.30,210.20C235.06,209.89 239.54,225.22 245.60,223.70C253.38,221.74 254.92,204.01 262.90,201.50C268.76,199.65 274.72,215.18 280.20,212.80C288.56,209.18 289.68,188.60 297.50,186.50C303.52,184.88 308.19,196.41 314.80,203.50C322.03,211.25 323.80,219.69 332.10,223.60C337.64,226.21 342.40,220.65 349.40,219.80C356.24,218.97 359.86,218.73 366.70,219.40C373.70,220.09 377.80,224.90 384.00,223.20C391.64,221.10 393.85,211.24 401.30,209.90C407.69,208.76 411.41,215.50 418.60,217.00C425.25,218.38 428.99,216.78 435.90,217.10C442.83,217.42 446.66,219.96 453.20,218.60C460.50,217.08 463.56,209.96 470.50,209.90C477.40,209.84 480.67,215.48 487.80,218.30C494.51,220.96 498.13,221.67 505.10,223.60C511.97,225.51 516.19,229.53 522.40,227.90C530.03,225.89 532.30,219.06 539.70,214.50C546.14,210.54 550.35,205.98 557.00,206.60C564.19,207.26 567.38,213.26 574.30,217.70L574.30,251.1L72.60,251.1Z" fill="#22c55e" fill-opacity="0.66"/>
<path d="M72.60,216.00C79.52,222.40 82.54,231.04 89.90,232.00C96.38,232.84 99.67,223.37 107.20,220.50C113.51,218.09 117.63,219.81 124.50,218.80C131.47,217.77 134.91,215.24 141.80,215.40C148.75,215.56 152.20,219.68 159.10,219.60C166.04,219.52 169.61,214.57 176.40,215.00C183.45,215.45 186.60,219.69 193.70,221.80C200.44,223.81 204.99,227.32 211.00,225.30C218.83,222.68 221.22,210.53 228.30,210.20C235.06,209.89 239.54,225.22 245.60,223.70C253.38,221.74 254.92,204.01 262.90,201.50C268.76,199.65 274.72,215.18 280.20,212.80C288.56,209.18 289.68,188.60 297.50,186.50C303.52,184.88 308.19,196.41 314.80,203.50C322.03,211.25 323.80,219.69 332.10,223.60C337.64,226.21 342.40,220.65 349.40,219.80C356.24,218.97 359.86,218.73 366.70,219.40C373.70,220.09 377.80,224.90 384.00,223.20C391.64,221.10 393.85,211.24 401.30,209.90C407.69,208.76 411.41,215.50 418.60,217.00C425.25,218.38 428.99,216.78 435.90,217.10C442.83,217.42 446.66,219.96 453.20,218.60C460.50,217.08 463.56,209.96 470.50,209.90C477.40,209.84 480.67,215.48 487.80,218.30C494.51,220.96 498.13,221.67 505.10,223.60C511.97,225.51 516.19,229.53 522.40,227.90C530.03,225.89 532.30,219.06 539.70,214.50C546.14,210.54 550.35,205.98 557.00,206.60C564.19,207.26 567.38,213.26 574.30,217.70" fill="none" stroke="#22c55e" stroke-width="1.2"/>
<path d="M72.60,220.00C79.52,226.08 82.61,234.40 89.90,235.20C96.45,235.92 99.66,226.37 107.20,223.80C113.50,221.65 117.58,223.48 124.50,223.40C131.42,223.32 134.88,223.48 141.80,223.40C148.72,223.32 152.26,223.83 159.10,223.00C166.10,222.15 169.70,218.46 176.40,219.20C183.54,219.98 186.51,224.68 193.70,226.80C200.35,228.76 204.37,230.42 211.00,229.40C218.21,228.30 221.23,221.95 228.30,221.50C235.07,221.07 239.81,229.34 245.60,227.20C253.65,224.22 255.22,210.45 262.90,208.70C269.06,207.29 274.46,221.32 280.20,219.30C288.30,216.44 290.36,196.97 297.50,196.50C304.20,196.05 306.96,209.84 314.80,217.00C320.80,222.48 324.67,226.53 332.10,228.10C338.51,229.45 342.40,224.91 349.40,224.30C356.24,223.71 359.79,224.64 366.70,225.10C373.63,225.56 377.76,228.53 384.00,226.60C391.60,224.25 394.05,215.20 401.30,214.40C407.89,213.68 411.32,220.86 418.60,222.80C425.16,224.54 428.99,223.14 435.90,223.60C442.83,224.06 446.79,226.73 453.20,225.10C460.63,223.21 463.55,214.88 470.50,214.80C477.39,214.72 480.47,221.80 487.80,224.70C494.31,227.28 498.14,227.19 505.10,228.50C511.98,229.79 516.13,232.92 522.40,231.20C529.97,229.12 532.46,223.35 539.70,219.00C546.30,215.03 550.30,209.90 557.00,210.40C564.14,210.94 567.38,217.12 574.30,221.60L574.30,251.1L72.60,251.1Z" fill="#f97316" fill-opacity="0.66"/>
<path d="M72.60,220.00C79.52,226.08 82.61,234.40 89.90,235.20C96.45,235.92 99.66,226.37 107.20,223.80C113.50,221.65 117.58,223.48 124.50,223.40C131.42,223.32 134.88,223.48 141.80,223.40C148.72,223.32 152.26,223.83 159.10,223.00C166.10,222.15 169.70,218.46 176.40,219.20C183.54,219.98 186.51,224.68 193.70,226.80C200.35,228.76 204.37,230.42 211.00,229.40C218.21,228.30 221.23,221.95 228.30,221.50C235.07,221.07 239.81,229.34 245.60,227.20C253.65,224.22 255.22,210.45 262.90,208.70C269.06,207.29 274.46,221.32 280.20,219.30C288.30,216.44 290.36,196.97 297.50,196.50C304.20,196.05 306.96,209.84 314.80,217.00C320.80,222.48 324.67,226.53 332.10,228.10C338.51,229.45 342.40,224.91 349.40,224.30C356.24,223.71 359.79,224.64 366.70,225.10C373.63,225.56 377.76,228.53 384.00,226.60C391.60,224.25 394.05,215.20 401.30,214.40C407.89,213.68 411.32,220.86 418.60,222.80C425.16,224.54 428.99,223.14 435.90,223.60C442.83,224.06 446.79,226.73 453.20,225.10C460.63,223.21 463.55,214.88 470.50,214.80C477.39,214.72 480.47,221.80 487.80,224.70C494.31,227.28 498.14,227.19 505.10,228.50C511.98,229.79 516.13,232.92 522.40,231.20C529.97,229.12 532.46,223.35 539.70,219.00C546.30,215.03 550.30,209.90 557.00,210.40C564.14,210.94 567.38,217.12 574.30,221.60" fill="none" stroke="#f97316" stroke-width="1.2"/>
<path d="M72.60,226.00C79.52,230.40 82.95,236.94 89.90,237.00C96.79,237.06 99.72,228.50 107.20,226.30C113.56,224.42 117.60,227.08 124.50,226.80C131.44,226.52 134.87,225.06 141.80,224.90C148.71,224.74 152.19,226.16 159.10,226.00C166.03,225.84 169.59,223.51 176.40,224.10C183.43,224.71 186.70,227.38 193.70,229.00C200.54,230.58 204.27,232.82 211.00,232.10C218.11,231.34 221.20,226.00 228.30,225.30C235.04,224.64 239.81,231.04 245.60,228.70C253.65,225.44 255.23,213.05 262.90,211.30C269.07,209.89 274.07,222.27 280.20,220.80C287.91,218.95 290.65,202.86 297.50,203.00C304.49,203.14 307.00,215.24 314.80,221.50C320.84,226.36 324.74,228.82 332.10,230.80C338.58,232.54 342.50,231.18 349.40,230.80C356.34,230.42 359.76,229.36 366.70,228.90C373.60,228.44 377.41,230.10 384.00,228.50C391.25,226.74 394.16,221.20 401.30,220.50C408.00,219.84 411.56,224.08 418.60,225.10C425.40,226.08 429.00,225.04 435.90,225.50C442.84,225.96 446.68,228.76 453.20,227.40C460.52,225.88 463.64,218.16 470.50,218.30C477.48,218.44 480.55,224.94 487.80,228.10C494.39,230.98 498.04,232.01 505.10,233.40C511.88,234.73 515.96,236.46 522.40,234.90C529.80,233.10 532.42,228.11 539.70,225.00C546.26,222.19 550.26,219.55 557.00,220.10C564.10,220.67 567.38,224.72 574.30,227.80L574.30,251.1L72.60,251.1Z" fill="#14b8a6" fill-opacity="0.66"/>
<path d="M72.60,226.00C79.52,230.40 82.95,236.94 89.90,237.00C96.79,237.06 99.72,228.50 107.20,226.30C113.56,224.42 117.60,227.08 124.50,226.80C131.44,226.52 134.87,225.06 141.80,224.90C148.71,224.74 152.19,226.16 159.10,226.00C166.03,225.84 169.59,223.51 176.40,224.10C183.43,224.71 186.70,227.38 193.70,229.00C200.54,230.58 204.27,232.82 211.00,232.10C218.11,231.34 221.20,226.00 228.30,225.30C235.04,224.64 239.81,231.04 245.60,228.70C253.65,225.44 255.23,213.05 262.90,211.30C269.07,209.89 274.07,222.27 280.20,220.80C287.91,218.95 290.65,202.86 297.50,203.00C304.49,203.14 307.00,215.24 314.80,221.50C320.84,226.36 324.74,228.82 332.10,230.80C338.58,232.54 342.50,231.18 349.40,230.80C356.34,230.42 359.76,229.36 366.70,228.90C373.60,228.44 377.41,230.10 384.00,228.50C391.25,226.74 394.16,221.20 401.30,220.50C408.00,219.84 411.56,224.08 418.60,225.10C425.40,226.08 429.00,225.04 435.90,225.50C442.84,225.96 446.68,228.76 453.20,227.40C460.52,225.88 463.64,218.16 470.50,218.30C477.48,218.44 480.55,224.94 487.80,228.10C494.39,230.98 498.04,232.01 505.10,233.40C511.88,234.73 515.96,236.46 522.40,234.90C529.80,233.10 532.42,228.11 539.70,225.00C546.26,222.19 550.26,219.55 557.00,220.10C564.10,220.67 567.38,224.72 574.30,227.80" fill="none" stroke="#14b8a6" stroke-width="1.2"/>
<path d="M72.60,232.90C79.52,235.34 83.26,239.71 89.90,239.00C97.10,238.23 99.80,231.17 107.20,229.20C113.64,227.49 117.59,229.38 124.50,229.80C131.43,230.22 134.88,230.76 141.80,231.30C148.72,231.84 152.27,233.09 159.10,232.50C166.11,231.89 169.51,228.16 176.40,228.30C183.35,228.44 186.65,232.04 193.70,233.20C200.49,234.32 204.08,233.78 211.00,234.00C217.92,234.22 221.45,234.91 228.30,234.30C235.29,233.67 239.03,233.26 245.60,230.90C252.87,228.30 255.77,222.50 262.90,221.90C269.61,221.34 274.40,230.10 280.20,228.00C288.24,225.10 290.23,210.14 297.50,209.40C304.07,208.74 307.34,219.24 314.80,224.50C321.18,229.00 324.75,231.65 332.10,233.80C338.59,235.69 342.49,234.76 349.40,234.60C356.33,234.44 359.77,233.54 366.70,233.00C373.61,232.46 377.42,233.65 384.00,231.90C391.26,229.97 394.18,224.42 401.30,223.80C408.02,223.22 411.54,228.02 418.60,228.90C425.38,229.74 429.03,227.64 435.90,228.10C442.87,228.56 446.62,232.28 453.20,231.20C460.46,230.00 463.71,222.11 470.50,222.40C477.55,222.71 480.45,229.64 487.80,232.70C494.29,235.40 498.12,235.51 505.10,236.80C511.96,238.07 515.75,240.12 522.40,239.10C529.59,238.00 532.57,233.93 539.70,231.50C546.41,229.21 550.15,227.04 557.00,227.30C563.99,227.56 567.38,230.60 574.30,232.80L574.30,251.1L72.60,251.1Z" fill="#ec4899" fill-opacity="0.66"/>
<path d="M72.60,232.90C79.52,235.34 83.26,239.71 89.90,239.00C97.10,238.23 99.80,231.17 107.20,229.20C113.64,227.49 117.59,229.38 124.50,229.80C131.43,230.22 134.88,230.76 141.80,231.30C148.72,231.84 152.27,233.09 159.10,232.50C166.11,231.89 169.51,228.16 176.40,228.30C183.35,228.44 186.65,232.04 193.70,233.20C200.49,234.32 204.08,233.78 211.00,234.00C217.92,234.22 221.45,234.91 228.30,234.30C235.29,233.67 239.03,233.26 245.60,230.90C252.87,228.30 255.77,222.50 262.90,221.90C269.61,221.34 274.40,230.10 280.20,228.00C288.24,225.10 290.23,210.14 297.50,209.40C304.07,208.74 307.34,219.24 314.80,224.50C321.18,229.00 324.75,231.65 332.10,233.80C338.59,235.69 342.49,234.76 349.40,234.60C356.33,234.44 359.77,233.54 366.70,233.00C373.61,232.46 377.42,233.65 384.00,231.90C391.26,229.97 394.18,224.42 401.30,223.80C408.02,223.22 411.54,228.02 418.60,228.90C425.38,229.74 429.03,227.64 435.90,228.10C442.87,228.56 446.62,232.28 453.20,231.20C460.46,230.00 463.71,222.11 470.50,222.40C477.55,222.71 480.45,229.64 487.80,232.70C494.29,235.40 498.12,235.51 505.10,236.80C511.96,238.07 515.75,240.12 522.40,239.10C529.59,238.00 532.57,233.93 539.70,231.50C546.41,229.21 550.15,227.04 557.00,227.30C563.99,227.56 567.38,230.60 574.30,232.80" fill="none" stroke="#ec4899" stroke-width="1.2"/>
<path d="M72.60,234.50C79.52,236.70 83.31,240.86 89.90,240.00C97.15,239.06 99.79,231.95 107.20,230.00C113.63,228.31 117.60,230.34 124.50,230.90C131.44,231.46 134.86,232.26 141.80,232.80C148.70,233.34 152.26,234.19 159.10,233.60C166.10,232.99 169.51,229.66 176.40,229.80C183.35,229.94 186.67,233.22 193.70,234.30C200.51,235.34 204.08,234.94 211.00,235.10C217.92,235.26 221.43,235.72 228.30,235.10C235.27,234.48 238.98,234.16 245.60,232.00C252.82,229.64 255.78,224.40 262.90,223.80C269.62,223.24 274.08,230.80 280.20,229.10C287.92,226.96 290.28,214.85 297.50,214.20C304.12,213.61 307.60,221.76 314.80,226.00C321.44,229.92 324.80,232.64 332.10,234.60C338.64,236.36 342.48,235.38 349.40,235.30C356.32,235.22 359.78,234.66 366.70,234.20C373.62,233.74 377.40,234.74 384.00,233.00C391.24,231.10 394.19,225.72 401.30,225.10C408.03,224.52 411.61,228.32 418.60,230.00C425.45,231.64 428.92,232.94 435.90,233.40C442.76,233.86 446.66,234.15 453.20,232.30C460.50,230.23 463.67,223.38 470.50,223.60C477.51,223.82 480.52,230.37 487.80,233.40C494.36,236.13 498.09,236.64 505.10,238.00C511.93,239.32 515.63,240.79 522.40,240.10C529.47,239.39 532.67,236.33 539.70,234.50C546.51,232.73 550.09,231.04 557.00,231.10C563.93,231.16 567.38,233.32 574.30,234.80L574.30,251.1L72.60,251.1Z" fill="#8b5cf6" fill-opacity="0.66"/>
<path d="M72.60,234.50C79.52,236.70 83.31,240.86 89.90,240.00C97.15,239.06 99.79,231.95 107.20,230.00C113.63,228.31 117.60,230.34 124.50,230.90C131.44,231.46 134.86,232.26 141.80,232.80C148.70,233.34 152.26,234.19 159.10,233.60C166.10,232.99 169.51,229.66 176.40,229.80C183.35,229.94 186.67,233.22 193.70,234.30C200.51,235.34 204.08,234.94 211.00,235.10C217.92,235.26 221.43,235.72 228.30,235.10C235.27,234.48 238.98,234.16 245.60,232.00C252.82,229.64 255.78,224.40 262.90,223.80C269.62,223.24 274.08,230.80 280.20,229.10C287.92,226.96 290.28,214.85 297.50,214.20C304.12,213.61 307.60,221.76 314.80,226.00C321.44,229.92 324.80,232.64 332.10,234.60C338.64,236.36 342.48,235.38 349.40,235.30C356.32,235.22 359.78,234.66 366.70,234.20C373.62,233.74 377.40,234.74 384.00,233.00C391.24,231.10 394.19,225.72 401.30,225.10C408.03,224.52 411.61,228.32 418.60,230.00C425.45,231.64 428.92,232.94 435.90,233.40C442.76,233.86 446.66,234.15 453.20,232.30C460.50,230.23 463.67,223.38 470.50,223.60C477.51,223.82 480.52,230.37 487.80,233.40C494.36,236.13 498.09,236.64 505.10,238.00C511.93,239.32 515.63,240.79 522.40,240.10C529.47,239.39 532.67,236.33 539.70,234.50C546.51,232.73 550.09,231.04 557.00,231.10C563.93,231.16 567.38,233.32 574.30,234.80" fill="none" stroke="#8b5cf6" stroke-width="1.2"/>
<path d="M72.60,239.50C79.52,240.90 83.20,243.76 89.90,243.00C97.04,242.20 100.02,236.68 107.20,235.60C113.86,234.60 117.55,237.28 124.50,237.80C131.39,238.32 134.89,237.90 141.80,238.20C148.73,238.50 152.20,239.54 159.10,239.30C166.04,239.06 169.45,237.38 176.40,237.00C183.29,236.62 186.80,236.94 193.70,237.40C200.64,237.86 204.06,239.00 211.00,239.30C217.90,239.60 221.44,239.65 228.30,238.90C235.28,238.13 238.82,237.38 245.60,235.50C252.66,233.54 255.99,229.28 262.90,229.30C269.83,229.32 273.84,236.83 280.20,235.60C287.68,234.15 290.43,222.93 297.50,222.60C304.27,222.29 307.28,231.09 314.80,234.00C321.12,236.45 325.23,234.91 332.10,236.00C339.07,237.11 342.41,238.95 349.40,239.50C356.25,240.03 359.83,238.24 366.70,238.70C373.67,239.16 377.23,242.39 384.00,241.80C391.07,241.19 394.18,236.87 401.30,235.70C408.02,234.59 411.70,235.64 418.60,236.10C425.54,236.56 429.04,238.38 435.90,238.00C442.88,237.62 446.23,235.43 453.20,234.20C460.07,232.99 463.59,231.82 470.50,231.90C477.43,231.98 481.01,232.97 487.80,234.60C494.85,236.29 498.03,238.63 505.10,240.20C511.87,241.71 515.52,242.58 522.40,242.30C529.36,242.02 532.80,240.28 539.70,238.80C546.64,237.32 550.22,234.41 557.00,234.90C564.06,235.41 567.38,238.74 574.30,241.30L574.30,251.1L72.60,251.1Z" fill="#ef4444" fill-opacity="0.66"/>
<path d="M72.60,239.50C79.52,240.90 83.20,243.76 89.90,243.00C97.04,242.20 100.02,236.68 107.20,235.60C113.86,234.60 117.55,237.28 124.50,237.80C131.39,238.32 134.89,237.90 141.80,238.20C148.73,238.50 152.20,239.54 159.10,239.30C166.04,239.06 169.45,237.38 176.40,237.00C183.29,236.62 186.80,236.94 193.70,237.40C200.64,237.86 204.06,239.00 211.00,239.30C217.90,239.60 221.44,239.65 228.30,238.90C235.28,238.13 238.82,237.38 245.60,235.50C252.66,233.54 255.99,229.28 262.90,229.30C269.83,229.32 273.84,236.83 280.20,235.60C287.68,234.15 290.43,222.93 297.50,222.60C304.27,222.29 307.28,231.09 314.80,234.00C321.12,236.45 325.23,234.91 332.10,236.00C339.07,237.11 342.41,238.95 349.40,239.50C356.25,240.03 359.83,238.24 366.70,238.70C373.67,239.16 377.23,242.39 384.00,241.80C391.07,241.19 394.18,236.87 401.30,235.70C408.02,234.59 411.70,235.64 418.60,236.10C425.54,236.56 429.04,238.38 435.90,238.00C442.88,237.62 446.23,235.43 453.20,234.20C460.07,232.99 463.59,231.82 470.50,231.90C477.43,231.98 481.01,232.97 487.80,234.60C494.85,236.29 498.03,238.63 505.10,240.20C511.87,241.71 515.52,242.58 522.40,242.30C529.36,242.02 532.80,240.28 539.70,238.80C546.64,237.32 550.22,234.41 557.00,234.90C564.06,235.41 567.38,238.74 574.30,241.30" fill="none" stroke="#ef4444" stroke-width="1.2"/>
<path d="M72.60,241.40C79.52,242.64 83.15,245.14 89.90,244.50C96.99,243.82 100.08,239.03 107.20,238.10C113.92,237.23 117.56,239.46 124.50,240.00C131.40,240.54 134.88,240.50 141.80,240.80C148.72,241.10 152.23,241.96 159.10,241.50C166.07,241.04 169.43,239.02 176.40,238.50C183.27,237.98 186.81,238.36 193.70,238.90C200.65,239.44 204.05,240.82 211.00,241.20C217.89,241.58 221.43,240.28 228.30,240.80C235.27,241.32 239.14,245.14 245.60,243.80C252.98,242.26 255.53,235.05 262.90,233.60C269.37,232.33 273.60,238.01 280.20,237.00C287.44,235.89 290.47,228.60 297.50,228.30C304.31,228.00 307.64,233.49 314.80,235.50C321.48,237.37 325.21,236.83 332.10,238.00C339.05,239.19 342.41,240.71 349.40,241.40C356.25,242.07 359.79,241.10 366.70,241.40C373.63,241.70 377.22,243.64 384.00,242.90C391.06,242.12 394.23,238.60 401.30,237.60C408.07,236.64 411.71,237.48 418.60,238.00C425.55,238.52 429.05,240.58 435.90,240.20C442.89,239.82 446.19,236.71 453.20,236.10C460.03,235.51 463.62,236.39 470.50,237.20C477.46,238.03 480.85,239.22 487.80,240.20C494.69,241.18 498.17,241.48 505.10,242.10C512.01,242.72 515.52,243.64 522.40,243.30C529.36,242.96 532.87,241.96 539.70,240.40C546.71,238.80 550.23,234.93 557.00,235.40C564.07,235.89 567.38,239.84 574.30,242.80L574.30,251.1L72.60,251.1Z" fill="#f59e0b" fill-opacity="0.66"/>
<path d="M72.60,241.40C79.52,242.64 83.15,245.14 89.90,244.50C96.99,243.82 100.08,239.03 107.20,238.10C113.92,237.23 117.56,239.46 124.50,240.00C131.40,240.54 134.88,240.50 141.80,240.80C148.72,241.10 152.23,241.96 159.10,241.50C166.07,241.04 169.43,239.02 176.40,238.50C183.27,237.98 186.81,238.36 193.70,238.90C200.65,239.44 204.05,240.82 211.00,241.20C217.89,241.58 221.43,240.28 228.30,240.80C235.27,241.32 239.14,245.14 245.60,243.80C252.98,242.26 255.53,235.05 262.90,233.60C269.37,232.33 273.60,238.01 280.20,237.00C287.44,235.89 290.47,228.60 297.50,228.30C304.31,228.00 307.64,233.49 314.80,235.50C321.48,237.37 325.21,236.83 332.10,238.00C339.05,239.19 342.41,240.71 349.40,241.40C356.25,242.07 359.79,241.10 366.70,241.40C373.63,241.70 377.22,243.64 384.00,242.90C391.06,242.12 394.23,238.60 401.30,237.60C408.07,236.64 411.71,237.48 418.60,238.00C425.55,238.52 429.05,240.58 435.90,240.20C442.89,239.82 446.19,236.71 453.20,236.10C460.03,235.51 463.62,236.39 470.50,237.20C477.46,238.03 480.85,239.22 487.80,240.20C494.69,241.18 498.17,241.48 505.10,242.10C512.01,242.72 515.52,243.64 522.40,243.30C529.36,242.96 532.87,241.96 539.70,240.40C546.71,238.80 550.23,234.93 557.00,235.40C564.07,235.89 567.38,239.84 574.30,242.80" fill="none" stroke="#f59e0b" stroke-width="1.2"/>
<path d="M72.60,244.70C79.52,245.42 83.03,246.86 89.90,246.50C96.87,246.14 100.21,243.45 107.20,242.90C114.05,242.37 117.59,243.28 124.50,243.80C131.43,244.32 134.86,245.16 141.80,245.50C148.70,245.84 152.20,245.84 159.10,245.50C166.04,245.16 169.46,244.06 176.40,243.80C183.30,243.54 186.78,243.96 193.70,244.20C200.62,244.44 204.08,244.78 211.00,245.00C217.92,245.22 221.38,245.24 228.30,245.30C235.22,245.36 238.70,245.70 245.60,245.30C252.54,244.90 255.97,243.98 262.90,243.30C269.81,242.62 273.53,243.52 280.20,241.90C287.37,240.16 290.59,234.88 297.50,234.90C304.43,234.92 307.68,239.82 314.80,242.00C321.52,244.06 325.11,244.79 332.10,245.50C338.95,246.19 342.48,245.64 349.40,245.50C356.32,245.36 359.78,244.72 366.70,244.80C373.62,244.88 377.14,246.36 384.00,245.90C390.98,245.44 394.38,242.50 401.30,242.50C408.22,242.50 411.67,245.82 418.60,245.90C425.51,245.98 428.93,243.50 435.90,242.90C442.77,242.30 446.28,242.90 453.20,242.90C460.12,242.90 463.61,242.44 470.50,242.90C477.45,243.36 480.86,244.98 487.80,245.20C494.70,245.42 498.22,243.64 505.10,244.00C512.06,244.36 515.46,246.84 522.40,247.00C529.30,247.16 532.87,246.14 539.70,244.80C546.71,243.42 550.18,239.85 557.00,240.20C564.02,240.57 567.38,244.04 574.30,246.60L574.30,251.1L72.60,251.1Z" fill="#10b981" fill-opacity="0.66"/>
<path d="M72.60,244.70C79.52,245.42 83.03,246.86 89.90,246.50C96.87,246.14 100.21,243.45 107.20,242.90C114.05,242.37 117.59,243.28 124.50,243.80C131.43,244.32 134.86,245.16 141.80,245.50C148.70,245.84 152.20,245.84 159.10,245.50C166.04,245.16 169.46,244.06 176.40,243.80C183.30,243.54 186.78,243.96 193.70,244.20C200.62,244.44 204.08,244.78 211.00,245.00C217.92,245.22 221.38,245.24 228.30,245.30C235.22,245.36 238.70,245.70 245.60,245.30C252.54,244.90 255.97,243.98 262.90,243.30C269.81,242.62 273.53,243.52 280.20,241.90C287.37,240.16 290.59,234.88 297.50,234.90C304.43,234.92 307.68,239.82 314.80,242.00C321.52,244.06 325.11,244.79 332.10,245.50C338.95,246.19 342.48,245.64 349.40,245.50C356.32,245.36 359.78,244.72 366.70,244.80C373.62,244.88 377.14,246.36 384.00,245.90C390.98,245.44 394.38,242.50 401.30,242.50C408.22,242.50 411.67,245.82 418.60,245.90C425.51,245.98 428.93,243.50 435.90,242.90C442.77,242.30 446.28,242.90 453.20,242.90C460.12,242.90 463.61,242.44 470.50,242.90C477.45,243.36 480.86,244.98 487.80,245.20C494.70,245.42 498.22,243.64 505.10,244.00C512.06,244.36 515.46,246.84 522.40,247.00C529.30,247.16 532.87,246.14 539.70,244.80C546.71,243.42 550.18,239.85 557.00,240.20C564.02,240.57 567.38,244.04 574.30,246.60" fill="none" stroke="#10b981" stroke-width="1.2"/>
<path d="M72.60,246.90C79.52,247.54 83.06,248.99 89.90,248.50C96.90,247.99 100.20,244.89 107.20,244.40C114.04,243.93 117.57,245.62 124.50,246.10C131.41,246.58 134.88,246.54 141.80,246.80C148.72,247.06 152.18,247.46 159.10,247.40C166.02,247.34 169.48,246.68 176.40,246.50C183.32,246.32 186.78,246.44 193.70,246.50C200.62,246.56 204.08,246.74 211.00,246.80C217.92,246.86 221.38,246.80 228.30,246.80C235.22,246.80 238.71,247.24 245.60,246.80C252.55,246.36 255.95,245.04 262.90,244.60C269.79,244.16 273.29,244.80 280.20,244.60C287.13,244.40 290.58,243.68 297.50,243.60C304.42,243.52 307.91,243.58 314.80,244.20C321.75,244.82 325.14,246.20 332.10,246.70C338.98,247.20 342.48,246.62 349.40,246.70C356.32,246.78 359.78,246.88 366.70,247.10C373.62,247.32 377.14,248.34 384.00,247.80C390.98,247.26 394.34,244.62 401.30,244.40C408.18,244.18 411.65,246.40 418.60,246.70C425.49,247.00 428.98,246.06 435.90,245.90C442.82,245.74 446.29,246.12 453.20,245.90C460.13,245.68 463.59,244.72 470.50,244.80C477.43,244.88 480.87,246.08 487.80,246.30C494.71,246.52 498.20,245.56 505.10,245.90C512.04,246.24 515.47,247.94 522.40,248.00C529.31,248.06 532.86,247.37 539.70,246.20C546.70,245.01 550.21,241.65 557.00,242.10C564.05,242.57 567.38,245.94 574.30,248.50L574.30,251.1L72.60,251.1Z" fill="#3b82f6" fill-opacity="0.66"/>
<path d="M72.60,246.90C79.52,247.54 83.06,248.99 89.90,248.50C96.90,247.99 100.20,244.89 107.20,244.40C114.04,243.93 117.57,245.62 124.50,246.10C131.41,246.58 134.88,246.54 141.80,246.80C148.72,247.06 152.18,247.46 159.10,247.40C166.02,247.34 169.48,246.68 176.40,246.50C183.32,246.32 186.78,246.44 193.70,246.50C200.62,246.56 204.08,246.74 211.00,246.80C217.92,246.86 221.38,246.80 228.30,246.80C235.22,246.80 238.71,247.24 245.60,246.80C252.55,246.36 255.95,245.04 262.90,244.60C269.79,244.16 273.29,244.80 280.20,244.60C287.13,244.40 290.58,243.68 297.50,243.60C304.42,243.52 307.91,243.58 314.80,244.20C321.75,244.82 325.14,246.20 332.10,246.70C338.98,247.20 342.48,246.62 349.40,246.70C356.32,246.78 359.78,246.88 366.70,247.10C373.62,247.32 377.14,248.34 384.00,247.80C390.98,247.26 394.34,244.62 401.30,244.40C408.18,244.18 411.65,246.40 418.60,246.70C425.49,247.00 428.98,246.06 435.90,245.90C442.82,245.74 446.29,246.12 453.20,245.90C460.13,245.68 463.59,244.72 470.50,244.80C477.43,244.88 480.87,246.08 487.80,246.30C494.71,246.52 498.20,245.56 505.10,245.90C512.04,246.24 515.47,247.94 522.40,248.00C529.31,248.06 532.86,247.37 539.70,246.20C546.70,245.01 550.21,241.65 557.00,242.10C564.05,242.57 567.38,245.94 574.30,248.50" fill="none" stroke="#3b82f6" stroke-width="1.2"/>

<rect x="57.8" y="258.8" width="12" height="10" fill="#3b82f6" fill-opacity="0.66" stroke="#3b82f6" stroke-width="1"/>
<text x="75.1" y="267.0" textLength="12.9" lengthAdjust="spacingAndGlyphs" class="lg">P0</text>
<rect x="95.1" y="258.8" width="12" height="10" fill="#10b981" fill-opacity="0.66" stroke="#10b981" stroke-width="1"/>
<text x="112.4" y="267.0" textLength="12.9" lengthAdjust="spacingAndGlyphs" class="lg">P1</text>
<rect x="132.3" y="258.8" width="12" height="10" fill="#f59e0b" fill-opacity="0.66" stroke="#f59e0b" stroke-width="1"/>
<text x="149.6" y="267.0" textLength="12.9" lengthAdjust="spacingAndGlyphs" class="lg">P2</text>
<rect x="169.6" y="258.8" width="12" height="10" fill="#ef4444" fill-opacity="0.66" stroke="#ef4444" stroke-width="1"/>
<text x="186.9" y="267.0" textLength="12.9" lengthAdjust="spacingAndGlyphs" class="lg">P3</text>
<rect x="206.9" y="258.8" width="12" height="10" fill="#8b5cf6" fill-opacity="0.66" stroke="#8b5cf6" stroke-width="1"/>
<text x="224.2" y="267.0" textLength="12.9" lengthAdjust="spacingAndGlyphs" class="lg">P4</text>
<rect x="244.2" y="258.8" width="12" height="10" fill="#ec4899" fill-opacity="0.66" stroke="#ec4899" stroke-width="1"/>
<text x="261.5" y="267.0" textLength="12.9" lengthAdjust="spacingAndGlyphs" class="lg">P5</text>
<rect x="281.4" y="258.8" width="12" height="10" fill="#14b8a6" fill-opacity="0.66" stroke="#14b8a6" stroke-width="1"/>
<text x="298.7" y="267.0" textLength="12.9" lengthAdjust="spacingAndGlyphs" class="lg">P6</text>
<rect x="318.7" y="258.8" width="12" height="10" fill="#f97316" fill-opacity="0.66" stroke="#f97316" stroke-width="1"/>
<text x="336.0" y="267.0" textLength="12.9" lengthAdjust="spacingAndGlyphs" class="lg">P7</text>
<rect x="356.0" y="258.8" width="12" height="10" fill="#22c55e" fill-opacity="0.66" stroke="#22c55e" stroke-width="1"/>
<text x="373.3" y="267.0" textLength="12.9" lengthAdjust="spacingAndGlyphs" class="lg">P8</text>
<rect x="393.2" y="258.8" width="12" height="10" fill="#a855f7" fill-opacity="0.66" stroke="#a855f7" stroke-width="1"/>
<text x="410.5" y="267.0" textLength="12.9" lengthAdjust="spacingAndGlyphs" class="lg">P9</text>
<rect x="430.4" y="258.8" width="12" height="10" fill="#fb923c" fill-opacity="0.66" stroke="#fb923c" stroke-width="1"/>
<text x="447.7" y="267.0" textLength="18.0" lengthAdjust="spacingAndGlyphs" class="lg">P10</text>
<rect x="472.8" y="258.8" width="12" height="10" fill="#4ade80" fill-opacity="0.66" stroke="#4ade80" stroke-width="1"/>
<text x="490.1" y="267.0" textLength="18.0" lengthAdjust="spacingAndGlyphs" class="lg">P11</text>
<rect x="515.1" y="258.8" width="12" height="10" fill="#60a5fa" fill-opacity="0.66" stroke="#60a5fa" stroke-width="1"/>
<text x="532.4" y="267.0" textLength="18.0" lengthAdjust="spacingAndGlyphs" class="lg">P12</text>
<rect x="243.9" y="276.7" width="12" height="10" fill="#f87171" fill-opacity="0.66" stroke="#f87171" stroke-width="1"/>
<text x="261.2" y="284.9" textLength="18.0" lengthAdjust="spacingAndGlyphs" class="lg">P13</text>
<rect x="287.0" y="276.7" width="12" height="10" fill="#a78bfa" fill-opacity="0.66" stroke="#a78bfa" stroke-width="1"/>
<text x="304.3" y="284.9" textLength="18.0" lengthAdjust="spacingAndGlyphs" class="lg">P14</text>
<rect x="330.1" y="276.7" width="12" height="10" fill="#f472b6" fill-opacity="0.66" stroke="#f472b6" stroke-width="1"/>
<text x="347.4" y="284.9" textLength="18.0" lengthAdjust="spacingAndGlyphs" class="lg">P15</text>
</svg>

<div class="card" style="top:326px;height:91px"></div>
<div class="abs lbl" style="left:33px;top:339px;letter-spacing:0.4px">MEMORY</div>
<div class="abs track"><div class="fill"></div></div>
<div class="abs pct" style="left:525px">35%</div>
<div class="abs sub" style="left:33px;top:388px;letter-spacing:0.2px">10.7 GB / 30.6 GB</div>

<div class="card" style="top:433px;height:107px"></div>
<div class="abs lbl" style="left:33px;top:446px;letter-spacing:0.3px">SYSTEM INFO</div>
<div class="abs k" style="left:33px;top:467px">Hostname</div>
<div class="abs k" style="left:33px;top:489px">Platform</div>
<div class="abs k" style="left:33px;top:511px">Uptime</div>
<div class="abs v" style="right:33px;top:467px">my-server</div>
<div class="abs v" style="right:33px;top:489px">linux x64</div>
<div class="abs v" style="right:33px;top:511px">23h 53m</div>
</body></html>
